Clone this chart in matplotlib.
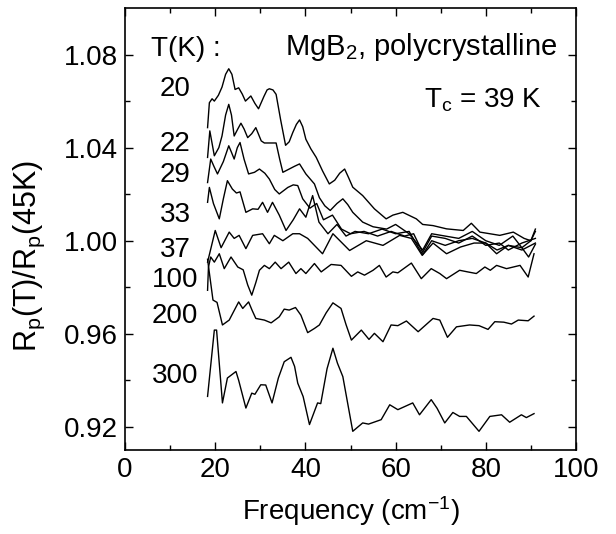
import numpy as np
import matplotlib
matplotlib.use("Agg")
import matplotlib.pyplot as plt

plt.rcParams['font.family'] = ['Liberation Sans', 'DejaVu Sans']
plt.rcParams['mathtext.fontset'] = 'custom'
plt.rcParams['mathtext.rm'] = 'Liberation Sans'
plt.rcParams['mathtext.it'] = 'Liberation Sans:italic'

# frequency (cm-1) and Rp(T)/Rp(45K)
f_20 = [18.3, 18.7, 19.3, 19.8, 20.7, 21.5, 22.3, 23.0, 23.7, 24.4, 25.2, 26.0, 26.7, 27.9, 28.8,
        29.6, 30.8, 31.5, 32.0, 32.8, 33.5, 34.5, 35.6, 36.4, 37.2, 38.0, 38.7, 39.4, 40.1, 41.2,
        42.4, 43.8, 45.3, 46.5, 47.6, 48.7, 49.6, 50.5, 52.7, 55.3, 57.9, 59.4, 61.6, 64.6, 66.0,
        68.3, 71.3, 75.0, 76.8, 78.7, 83.1, 86.1, 88.5, 90.0, 91.0]
r_20 = [1.0486, 1.0593, 1.061, 1.060, 1.0625, 1.066, 1.0715, 1.0739, 1.0715, 1.065, 1.0657, 1.063,
        1.060, 1.0622, 1.059, 1.0567, 1.062, 1.0648, 1.0653, 1.0648, 1.0629, 1.052, 1.041, 1.0425,
        1.0465, 1.050, 1.0519, 1.049, 1.0436, 1.0395, 1.0358, 1.030, 1.0244, 1.026, 1.029, 1.0308,
        1.027, 1.023, 1.0194, 1.0137, 1.0094, 1.011, 1.0122, 1.0094, 1.007, 1.0065, 1.0051, 1.0044,
        1.0075, 1.0037, 1.0023, 1.0037, 1.001, 1.000, 1.005]

f_22 = [18.3, 18.8, 19.8, 20.8, 21.5, 22.3, 23.0, 23.6, 24.2, 25.0, 25.7, 26.4, 27.2, 28.1, 29.0,
        30.2, 30.9, 33.5, 34.3, 35.0, 36.4, 37.6, 38.7, 40.1, 42.0, 43.1, 44.3, 45.5, 47.0, 48.3,
        49.4, 50.5, 52.7, 55, 58, 60, 63, 66, 68, 71, 74, 77, 80, 83, 86, 88, 90, 91]
r_22 = [1.0358, 1.0472, 1.0365, 1.040, 1.045, 1.054, 1.0586, 1.054, 1.045, 1.048, 1.0505, 1.048,
        1.0443, 1.046, 1.0486, 1.0429, 1.042, 1.042, 1.035, 1.0294, 1.0308, 1.032, 1.033, 1.0287,
        1.0244, 1.0185, 1.015, 1.013, 1.016, 1.018, 1.0155, 1.0122, 1.008, 1.006, 1.005, 1.007,
        1.003, 0.996, 1.003, 1.002, 1.001, 1.004, 1.000, 0.998, 1.002, 0.997, 1.000, 1.004]

f_29 = [18.3, 19.0, 19.7, 20.5, 21.8, 23.0, 23.6, 24.2, 24.9, 25.5, 26.4, 27.4, 28.7, 29.8, 31.0,
        32.0, 33.2, 34.2, 36.1, 37.3, 38.3, 39.4, 41, 42.5, 44, 46, 48, 50, 53, 56, 59, 62, 64, 66,
        68, 71, 74, 77, 80, 83, 85, 88, 91]
r_29 = [1.025, 1.0351, 1.032, 1.0287, 1.034, 1.0408, 1.038, 1.0351, 1.040, 1.0422, 1.035, 1.0287,
        1.0294, 1.0308, 1.029, 1.0265, 1.022, 1.0201, 1.0229, 1.024, 1.0237, 1.018, 1.014, 1.016,
        1.009, 1.011, 1.005, 1.003, 1.004, 1.002, 1.004, 1.002, 1.003, 0.995, 1.002, 1.001, 0.999,
        1.002, 0.998, 0.999, 0.996, 0.999, 1.001]

f_33 = [18.3, 18.7, 19.6, 20.9, 21.8, 22.7, 23.8, 24.7, 25.5, 26.8, 28.3, 29.5, 30.5, 31.6, 32.7,
        34.2, 35.7, 37.3, 38.7, 40.1, 41.6, 43, 45, 47, 49, 51, 54, 57, 60, 63, 66, 68, 71, 74, 77,
        80, 82.5, 85, 88, 91]
r_33 = [1.0165, 1.0229, 1.016, 1.0094, 1.018, 1.0258, 1.0222, 1.0205, 1.021, 1.0122, 1.0137,
        1.0135, 1.0165, 1.0122, 1.0165, 1.011, 1.0044, 1.009, 1.0137, 1.0101, 1.0194, 1.008, 1.003,
        1.007, 1.002, 1.004, 1.003, 1.005, 1.003, 1.004, 0.994, 1.000, 0.998, 1.000, 1.001, 0.999,
        0.996, 0.998, 0.996, 0.999]

f_37 = [18.3, 20.0, 21.3, 23.1, 24.2, 25.3, 26.8, 28.3, 30.5, 32.0, 33.1, 35.0, 37.2, 38.7, 40.5,
        43.8, 46.1, 49.8, 53.5, 57.2, 60.9, 63.5, 65.9, 68.3, 71.3, 74.4, 77.4, 80, 82.4, 85, 88,
        89.5, 91]
r_37 = [0.9908, 1.0044, 0.997, 1.0037, 1.001, 1.0023, 0.9966, 1.0023, 1.003, 0.9987, 1.0023, 1.0,
        1.003, 1.003, 1.001, 0.9944, 1.003, 0.9958, 1.0, 0.998, 1.0023, 1.001, 0.9937, 0.999,
        0.9944, 0.9973, 0.999, 0.999, 0.9944, 0.998, 0.997, 0.993, 0.9985]

f_100 = [18.3, 18.5, 19.0, 19.8, 20.9, 22.0, 23.5, 25.0, 26.2, 27.2, 28.1, 29.0, 29.8, 30.9, 32.0,
         33.3, 34.6, 36.3, 37.9, 39.0, 40.1, 42.0, 43.5, 45.7, 47.9, 50.2, 51.6, 53.1, 55.0, 56.4,
         57.9, 59.4, 60.5, 63.5, 65.7, 67.9, 69.8, 71.3, 74.2, 76.0, 77.9, 79.8, 81.0, 82.4, 84.6,
         87.6, 89.4, 90.7]
r_100 = [0.9787, 0.9887, 0.993, 0.9908, 0.9944, 0.988, 0.993, 0.9887, 0.9875, 0.981, 0.9766,
         0.982, 0.9873, 0.9894, 0.988, 0.9908, 0.988, 0.9908, 0.9859, 0.988, 0.9859, 0.9902,
         0.9866, 0.9898, 0.9894, 0.9847, 0.9866, 0.9852, 0.9873, 0.9894, 0.9844, 0.9866, 0.9862,
         0.9904, 0.9837, 0.988, 0.9859, 0.9837, 0.9873, 0.9866, 0.9859, 0.9887, 0.9873, 0.9894,
         0.988, 0.9894, 0.9844, 0.9944]

f_200 = [18.3, 19.5, 20.4, 21.6, 23.1, 24.2, 25.2, 26.1, 27.4, 28.2, 29.0, 30.9, 32.4, 34.2, 35.3,
         36.4, 37.8, 39.0, 40.5, 42.0, 43.1, 44.6, 46.1, 47.9, 49.0, 50.2, 52.4, 54.1, 55.3, 57.2,
         59.0, 60.5, 62.4, 65.0, 68.3, 69.8, 71.5, 73.5, 76.4, 78.5, 80.5, 82.0, 84.0, 85.7, 87.2,
         89.4, 90.7]
r_200 = [0.992, 0.9745, 0.9735, 0.9638, 0.9659, 0.970, 0.9737, 0.9709, 0.9737, 0.970, 0.9666,
         0.9659, 0.9647, 0.9673, 0.9706, 0.9702, 0.9713, 0.968, 0.9605, 0.9623, 0.9638, 0.969,
         0.9733, 0.9709, 0.964, 0.9573, 0.9616, 0.9576, 0.9602, 0.9566, 0.9638, 0.9635, 0.9655,
         0.9609, 0.9666, 0.9659, 0.9585, 0.963, 0.9638, 0.9635, 0.9619, 0.9652, 0.965, 0.9642,
         0.9659, 0.9656, 0.9676]

f_300 = [18.3, 19.8, 20.3, 21.6, 22.7, 24.6, 25.2, 26.8, 28.1, 28.8, 30.1, 31.2, 32.6, 34.0, 35.3,
         36.8, 37.6, 38.3, 39.5, 40.9, 42.7, 43.4, 44.8, 46.1, 47.1, 48.3, 50.5, 52.7, 54.0, 56.8,
         58.7, 60.5, 63.8, 65.3, 67.9, 69.2, 70.9, 72.7, 74.2, 75.7, 78.5, 80.9, 83.5, 85.3, 87.9,
         89.0, 90.7]
r_300 = [0.9331, 0.9616, 0.9616, 0.9303, 0.941, 0.9438, 0.940, 0.9281, 0.9345, 0.934, 0.9381,
         0.938, 0.9303, 0.941, 0.948, 0.9499, 0.946, 0.9388, 0.933, 0.921, 0.9303, 0.930, 0.945,
         0.9538, 0.9474, 0.9416, 0.9181, 0.9217, 0.9212, 0.9231, 0.9295, 0.9274, 0.9303, 0.9252,
         0.9317, 0.928, 0.9217, 0.9262, 0.9245, 0.9245, 0.9181, 0.9245, 0.9252, 0.922, 0.9252,
         0.924, 0.9257]

series = [(f_20, r_20), (f_22, r_22), (f_29, r_29), (f_33, r_33), (f_37, r_37),
          (f_100, r_100), (f_200, r_200), (f_300, r_300)]
temps = ["20", "22", "29", "33", "37", "100", "200", "300"]
label_y = [1.0622, 1.0386, 1.0251, 1.008, 0.993, 0.9801, 0.9645, 0.9388]

fig = plt.figure(figsize=(6.16, 5.34), dpi=100)
ax = fig.add_axes([0.203, 0.157, 0.732, 0.828])

for f, r in series:
    ax.plot(f, r, color="black", linewidth=1.0)

for t, y in zip(temps, label_y):
    ax.text(11.1, y, t, fontsize=20, ha="center", va="baseline")

ax.text(5.7, 1.0794, "T(K) :", fontsize=20, ha="left", va="baseline")
ax.text(35.5, 1.0800, r"MgB$_2$, polycrystalline", fontsize=21, ha="left", va="baseline")
ax.text(92.5, 1.0572, r"T$_\mathrm{c}$ = 39 K", fontsize=20, ha="right", va="baseline")

ax.set_xlim(0, 100)
ax.set_ylim(0.910, 1.100)
ax.set_xticks([0, 20, 40, 60, 80, 100])
ax.set_xticks([10, 30, 50, 70, 90], minor=True)
ax.set_yticks([0.92, 0.96, 1.00, 1.04, 1.08])
ax.set_yticks([0.94, 0.98, 1.02, 1.06], minor=True)
ax.set_yticklabels(["0.92", "0.96", "1.00", "1.04", "1.08"])
ax.tick_params(which="both", direction="in", top=True, right=True, labelsize=20, width=1.0)
ax.tick_params(which="major", length=6, pad=5)
ax.tick_params(which="minor", length=3.5)
for s in ax.spines.values():
    s.set_linewidth(1.2)

ax.set_xlabel(r"Frequency (cm$^{-1}$)", fontsize=20, labelpad=8)
ax.set_ylabel(r"R$_\mathrm{p}$(T)/R$_\mathrm{p}$(45K)", fontsize=22, va="center")
ax.yaxis.set_label_coords(-0.213, 0.44)

fig.savefig("out.png", dpi=100)
